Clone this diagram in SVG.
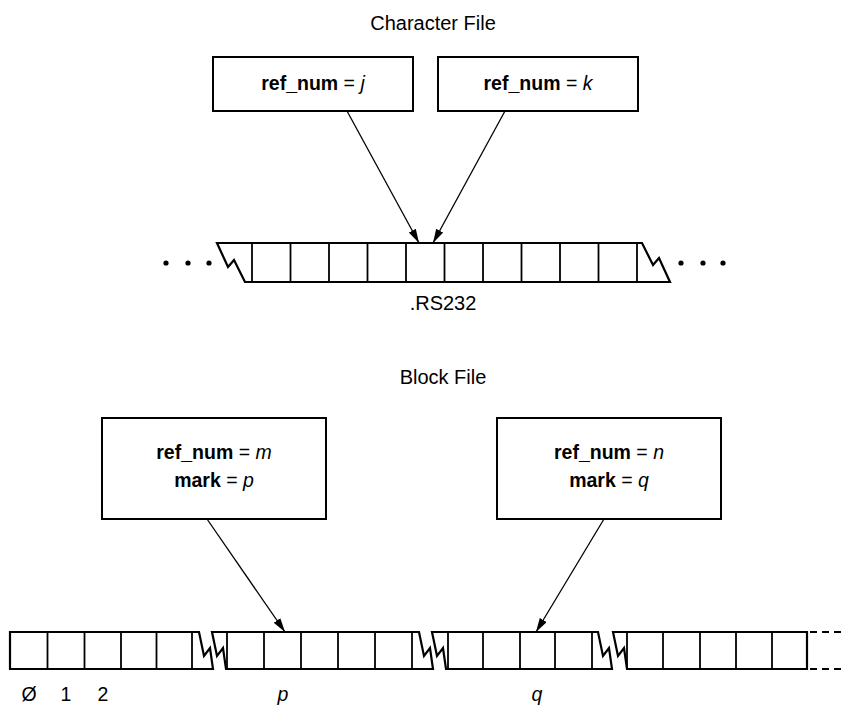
<svg xmlns="http://www.w3.org/2000/svg" width="843" height="707" viewBox="0 0 843 707">
  <style>
    text { font-family: "Liberation Sans", Arial, sans-serif; fill: #000; }
    .title { font-size: 20px; text-anchor: middle; }
    .lbl { font-size: 19.5px; text-anchor: middle; }
    .b { font-weight: bold; }
    .i { font-style: italic; }
    .box { fill: #fff; stroke: #000; stroke-width: 2; }
    .strip { fill: #fff; stroke: #000; stroke-width: 2.2; stroke-linejoin: miter; }
    .cell { stroke: #000; stroke-width: 1.8; }
    .dash { stroke: #000; stroke-width: 2.2; stroke-dasharray: 7 5; }
    .conn { stroke: #000; stroke-width: 1.3; fill: none; marker-end: url(#head); }
    .dot { fill: #000; }
  </style>
  <defs>
    <marker id="head" viewBox="0 0 14 8" refX="14" refY="4" markerWidth="14" markerHeight="8" markerUnits="userSpaceOnUse" orient="auto">
      <path d="M0,0 L14,4 L0,8 Z" fill="#000"/>
    </marker>
  </defs>

  <!-- Character file -->
  <text class="title" x="433" y="30">Character File</text>

  <g id="char-ref-j">
    <rect class="box" x="213" y="57" width="200" height="54"/>
    <text class="lbl" x="313" y="90"><tspan class="b">ref_num</tspan> = <tspan class="i">j</tspan></text>
  </g>
  <g id="char-ref-k">
    <rect class="box" x="438" y="57" width="200" height="54"/>
    <text class="lbl" x="538" y="90"><tspan class="b">ref_num</tspan> = <tspan class="i">k</tspan></text>
  </g>

  <g id="rs232-buffer">
    <circle class="dot" cx="166" cy="263" r="2.6"/>
    <circle class="dot" cx="188" cy="263" r="2.6"/>
    <circle class="dot" cx="209" cy="263" r="2.6"/>
    <path class="strip" d="M217,243 H642 L653,265 L659,258 L670,282 H245 L234,260 L228,267 Z"/>
    <g class="cell">
      <line x1="252" y1="243" x2="252" y2="282"/>
      <line x1="290.5" y1="243" x2="290.5" y2="282"/>
      <line x1="329" y1="243" x2="329" y2="282"/>
      <line x1="367.5" y1="243" x2="367.5" y2="282"/>
      <line x1="406" y1="243" x2="406" y2="282"/>
      <line x1="444.5" y1="243" x2="444.5" y2="282"/>
      <line x1="483" y1="243" x2="483" y2="282"/>
      <line x1="521.5" y1="243" x2="521.5" y2="282"/>
      <line x1="560" y1="243" x2="560" y2="282"/>
      <line x1="598.5" y1="243" x2="598.5" y2="282"/>
      <line x1="637" y1="243" x2="637" y2="282"/>
    </g>
    <circle class="dot" cx="681" cy="263" r="2.6"/>
    <circle class="dot" cx="703" cy="263" r="2.6"/>
    <circle class="dot" cx="723" cy="263" r="2.6"/>
    <text class="title" x="443" y="310">.RS232</text>
  </g>

  <!-- Block file -->
  <text class="title" x="443" y="384">Block File</text>

  <g id="block-ref-m">
    <rect class="box" x="102" y="418" width="224" height="101"/>
    <text class="lbl" x="214" y="459"><tspan class="b">ref_num</tspan> = <tspan class="i">m</tspan></text>
    <text class="lbl" x="214" y="487"><tspan class="b">mark</tspan> = <tspan class="i">p</tspan></text>
  </g>
  <g id="block-ref-n">
    <rect class="box" x="497" y="418" width="224" height="101"/>
    <text class="lbl" x="609" y="459"><tspan class="b">ref_num</tspan> = <tspan class="i">n</tspan></text>
    <text class="lbl" x="609" y="487"><tspan class="b">mark</tspan> = <tspan class="i">q</tspan></text>
  </g>

  <g id="block-buffer">
    <!-- blocks 0..4 -->
    <path class="strip" d="M10,632 H199 L204,656 L210,648 L213,669 H10 Z"/>
    <!-- block p -->
    <path class="strip" d="M212,632 H419 L424,656 L430,648 L433,669 H226 L223,648 L217,656 Z"/>
    <!-- block q -->
    <path class="strip" d="M432,632 H598 L603,656 L609,648 L612,669 H446 L443,648 L437,656 Z"/>
    <!-- trailing blocks -->
    <path class="strip" d="M613,632 H807 V669 H627 L624,648 L618,656 Z"/>
    <line class="dash" x1="810" y1="632" x2="843" y2="632"/>
    <line class="dash" x1="810" y1="669" x2="843" y2="669"/>
    <g class="cell">
      <line x1="47.5" y1="632" x2="47.5" y2="669"/>
      <line x1="84.5" y1="632" x2="84.5" y2="669"/>
      <line x1="121" y1="632" x2="121" y2="669"/>
      <line x1="156.5" y1="632" x2="156.5" y2="669"/>
      <line x1="192" y1="632" x2="192" y2="669"/>
      <line x1="227" y1="632" x2="227" y2="669"/>
      <line x1="264" y1="632" x2="264" y2="669"/>
      <line x1="301" y1="632" x2="301" y2="669"/>
      <line x1="338" y1="632" x2="338" y2="669"/>
      <line x1="375" y1="632" x2="375" y2="669"/>
      <line x1="412" y1="632" x2="412" y2="669"/>
      <line x1="448" y1="632" x2="448" y2="669"/>
      <line x1="483" y1="632" x2="483" y2="669"/>
      <line x1="520" y1="632" x2="520" y2="669"/>
      <line x1="555" y1="632" x2="555" y2="669"/>
      <line x1="592" y1="632" x2="592" y2="669"/>
      <line x1="627" y1="632" x2="627" y2="669"/>
      <line x1="663" y1="632" x2="663" y2="669"/>
      <line x1="700" y1="632" x2="700" y2="669"/>
      <line x1="736" y1="632" x2="736" y2="669"/>
      <line x1="772" y1="632" x2="772" y2="669"/>
    </g>
    <text class="lbl" x="29" y="701">Ø</text>
    <text class="lbl" x="66" y="701">1</text>
    <text class="lbl" x="103" y="701">2</text>
    <text class="lbl i" x="283" y="701">p</text>
    <text class="lbl i" x="537" y="701">q</text>
  </g>

  <g id="connectors">
    <line class="conn" x1="347" y1="111" x2="419" y2="243"/>
    <line class="conn" x1="505" y1="111" x2="433" y2="243"/>
    <line class="conn" x1="207" y1="519" x2="285" y2="632"/>
    <line class="conn" x1="604" y1="519" x2="536" y2="632"/>
  </g>
</svg>
